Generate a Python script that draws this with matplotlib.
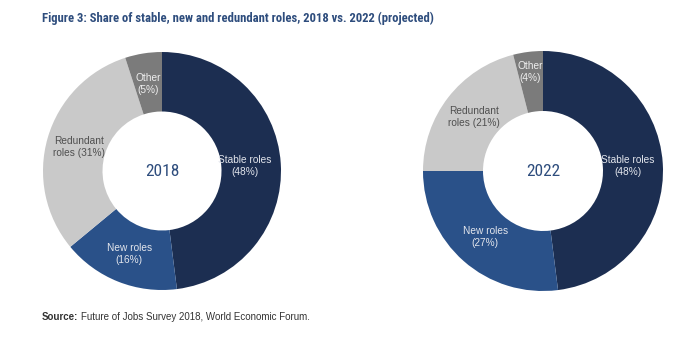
import numpy as np
import matplotlib
matplotlib.use("Agg")
import matplotlib.pyplot as plt

# ── Data ──────────────────────────────────────────────────────────────────────
categories = ["Stable roles", "New roles", "Redundant roles", "Other"]
years = ["2018", "2022"]
shares_2018 = [48, 16, 31, 5]
shares_2022 = [48, 27, 21, 4]
label_text_2018 = ["Stable roles\n(48%)", "New roles\n(16%)", "Redundant\nroles (31%)", "Other\n(5%)"]
label_text_2022 = ["Stable roles\n(48%)", "New roles\n(27%)", "Redundant\nroles (21%)", "Other\n(4%)"]

# ── Style ─────────────────────────────────────────────────────────────────────
COLORS = ["#1c2e51", "#2a5189", "#c9c9c9", "#7b7b7b"]
LABEL_COLORS = ["#e2e5ec", "#e2e5ec", "#4f4f4f", "#eeeeee"]
TITLE_COLOR = "#2e4d7d"
CONDENSED = ["Roboto Condensed", "Archivo Narrow", "IBM Plex Sans Condensed", "DejaVu Sans"]

plt.rcParams["font.family"] = ["Liberation Sans", "DejaVu Sans"]

W, H = 696, 337
fig = plt.figure(figsize=(W / 100, H / 100), dpi=100)
fig.patch.set_facecolor("white")


def donut(cx, cy, r, shares, labels, year, label_r):
    ax = fig.add_axes([(cx - r) / W, (H - cy - r) / H, 2 * r / W, 2 * r / H])
    wedges, _ = ax.pie(
        shares, colors=COLORS, startangle=90, counterclock=False,
        radius=1.0, wedgeprops=dict(width=0.5, linewidth=0),
    )
    for w, txt, col, lr in zip(wedges, labels, LABEL_COLORS, label_r):
        mid = np.deg2rad((w.theta1 + w.theta2) / 2)
        ax.text(lr * np.cos(mid), lr * np.sin(mid), txt,
                ha="center", va="center", fontsize=7.3, color=col,
                linespacing=1.25)
    ax.text(0, 0, year, ha="center", va="center", fontsize=12.5,
            color=TITLE_COLOR, family=CONDENSED)
    ax.set_xlim(-1, 1)
    ax.set_ylim(-1, 1)
    ax.set_aspect("equal")
    ax.axis("off")


donut(162, 171, 119, shares_2018, label_text_2018, years[0], [0.70, 0.75, 0.73, 0.74])
donut(543, 171, 120, shares_2022, label_text_2022, years[1], [0.71, 0.73, 0.73, 0.83])

fig.text(42 / W, 1 - 18 / H,
         "Figure 3: Share of stable, new and redundant roles, 2018 vs. 2022 (projected)",
         ha="left", va="center", fontsize=9.1, fontweight="bold",
         color=TITLE_COLOR, family=CONDENSED)

src = fig.text(42 / W, 1 - 317 / H, "Source:", ha="left", va="center",
               fontsize=7, fontweight="bold", color="#333333")
fig.canvas.draw()
bb = src.get_window_extent()
fig.text((bb.x1 + 3) / W, 1 - 317 / H,
         "Future of Jobs Survey 2018, World Economic Forum.",
         ha="left", va="center", fontsize=7, color="#333333")

fig.savefig("out.png", dpi=100, facecolor="white")
